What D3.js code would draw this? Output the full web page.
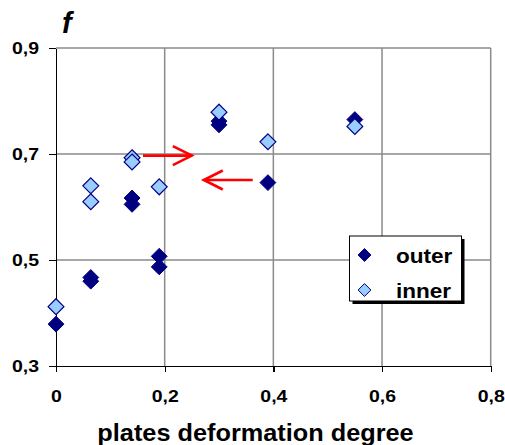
<!DOCTYPE html>
<html><head><meta charset="utf-8">
<script src="https://cdn.jsdelivr.net/npm/d3@7"></script>
<style>body{margin:0;background:#fff}svg{display:block}text{font-family:"Liberation Sans",Arial,sans-serif}</style>
</head><body>
<svg id="c" width="505" height="445"></svg>
<script>
// data
const outerX = [0, 0.064, 0.064, 0.14, 0.14, 0.19, 0.19, 0.30, 0.30, 0.39, 0.55];
const outerY = [0.379, 0.467, 0.460, 0.617, 0.605, 0.507, 0.487, 0.762, 0.755, 0.646, 0.765];
const innerX = [0, 0.064, 0.064, 0.14, 0.14, 0.19, 0.30, 0.39, 0.55];
const innerY = [0.412, 0.640, 0.610, 0.693, 0.685, 0.638, 0.779, 0.723, 0.752];
const seriesNames = ["outer", "inner"];
const xTicks = [0, 0.2, 0.4, 0.6, 0.8];
const yTicks = [0.3, 0.5, 0.7, 0.9];
// annotation arrows [x1,y1,x2,y2] in data units
const arrows = [[0.160, 0.697, 0.250, 0.697], [0.362, 0.651, 0.272, 0.651]];

const FONT = "'Liberation Sans', Arial, sans-serif";
const svg = d3.select("#c");
const L = 56, R = 490.7, T = 48, B = 366;
const x = d3.scaleLinear().domain([0, 0.8]).range([L, R]);
const y = d3.scaleLinear().domain([0.3, 0.9]).range([B, T]);
const fmtX = d => d === 0 ? "0" : d3.format(".1f")(d).replace(".", ",");
const fmtY = d => d3.format(".1f")(d).replace(".", ",");
function stretch(sel, k) {
  sel.each(function () {
    const len = this.getComputedTextLength();
    d3.select(this).attr("textLength", len * k).attr("lengthAdjust", "spacingAndGlyphs");
  });
}

// grid
const g = svg.append("g");
g.selectAll(".vg").data(xTicks.filter(d => d > 0)).join("line")
  .attr("x1", d => x(d)).attr("x2", d => x(d)).attr("y1", T).attr("y2", B)
  .attr("stroke", "#8a8a8a").attr("stroke-width", 1.5);
g.selectAll(".hg").data(yTicks.filter(d => d > 0.3)).join("line")
  .attr("y1", d => y(d)).attr("y2", d => y(d)).attr("x1", L).attr("x2", R)
  .attr("stroke", "#8a8a8a").attr("stroke-width", 1.5);

// axes
const ax = svg.append("g").attr("transform", `translate(0,${B})`)
  .call(d3.axisBottom(x).tickValues(xTicks).tickFormat(fmtX).tickSize(6).tickPadding(18).tickSizeOuter(0));
const ay = svg.append("g").attr("transform", `translate(${L},0)`)
  .call(d3.axisLeft(y).tickValues(yTicks).tickFormat(fmtY).tickSize(7).tickPadding(10).tickSizeOuter(0));
[ax, ay].forEach(a => {
  a.attr("font-family", FONT);
  a.selectAll("path,line").attr("stroke", "#000").attr("stroke-width", 1.3).attr("shape-rendering", "crispEdges");
  a.selectAll("text").attr("font-size", 16.5).attr("font-weight", "bold").attr("fill", "#000")
   .style("font-family", FONT).call(stretch, 1.18);
});

// markers
const diamond = d3.symbol().type(d3.symbolDiamond2).size(160);
const pts = (xs, ys) => xs.map((v, i) => [v, ys[i]]);
svg.append("g").selectAll("path").data(pts(outerX, outerY)).join("path")
  .attr("d", diamond).attr("transform", d => `translate(${x(d[0])},${y(d[1])})`)
  .attr("fill", "#000080").attr("stroke", "#000080").attr("stroke-width", 1);
svg.append("g").selectAll("path").data(pts(innerX, innerY)).join("path")
  .attr("d", diamond).attr("transform", d => `translate(${x(d[0])},${y(d[1])})`)
  .attr("fill", "#99ccff").attr("stroke", "#000080").attr("stroke-width", 1.2);

// arrows
const ag = svg.append("g").attr("stroke", "#ff0000").attr("stroke-width", 2.6).attr("fill", "none");
arrows.forEach(a => {
  const x1 = x(a[0]), y1 = y(a[1]), x2 = x(a[2]), y2 = y(a[3]);
  ag.append("line").attr("x1", x1).attr("y1", y1).attr("x2", x2).attr("y2", y2);
  const dir = Math.sign(x2 - x1);
  ag.append("path").attr("d", `M${x2 - dir * 19},${y2 - 9.5}L${x2},${y2}L${x2 - dir * 19},${y2 + 9.5}`);
});

// legend
const lg = svg.append("g");
lg.append("rect").attr("x", 352.5).attr("y", 239).attr("width", 112).attr("height", 65).attr("fill", "#000");
lg.append("rect").attr("x", 349.5).attr("y", 236).attr("width", 112).attr("height", 65).attr("fill", "#fff").attr("stroke", "#000").attr("stroke-width", 1);
const legStyles = [{ fill: "#000080" }, { fill: "#99ccff" }];
seriesNames.forEach((n, i) => {
  const cy = 255 + i * 35;
  lg.append("path").attr("d", d3.symbol().type(d3.symbolDiamond2).size(105))
    .attr("transform", `translate(364.5,${cy})`).attr("fill", legStyles[i].fill).attr("stroke", "#000080").attr("stroke-width", 1);
  lg.append("text").attr("x", 396).attr("y", cy + 7.5).attr("font-size", 20.5).attr("font-weight", "bold")
    .style("font-family", FONT).text(n).call(stretch, 1.1);
});

// titles
svg.append("text").attr("x", 62).attr("y", 33).attr("font-size", 29).attr("font-weight", "bold").attr("font-style", "italic")
  .style("font-family", FONT).text("f");
svg.append("text").attr("x", 255.5).attr("y", 441).attr("text-anchor", "middle").attr("font-size", 23).attr("font-weight", "bold")
  .style("font-family", FONT).text("plates deformation degree").call(stretch, 1.1);
</script>
</body></html>
